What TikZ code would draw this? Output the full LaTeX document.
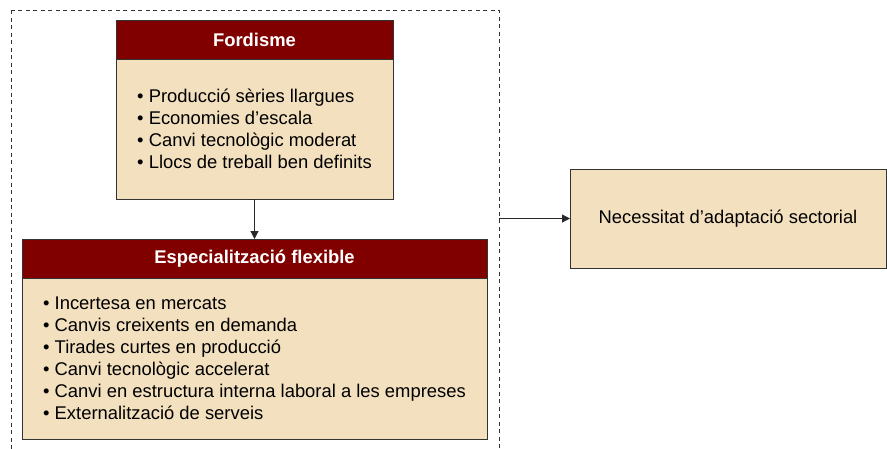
\documentclass[tikz,border=0pt]{standalone}
\usepackage{fontspec}
\setmainfont{Liberation Sans}
\usetikzlibrary{arrows.meta}
\definecolor{hdr}{HTML}{800000}
\definecolor{bodyfill}{HTML}{F3E0BF}
\definecolor{edge}{HTML}{333333}
\begin{document}
\begin{tikzpicture}[x=1pt,y=-1pt,
  every node/.style={font=\fontsize{18.4}{22}\selectfont, inner sep=0pt, outer sep=0pt},
  hdrbox/.style={draw=edge, line width=1pt, fill=hdr, text=white, font=\fontsize{18.4}{22}\selectfont\bfseries, minimum height=39pt},
  bodybox/.style={draw=edge, line width=1pt, fill=bodyfill, align=left},
  conn/.style={draw=edge!80!black, line width=1pt, -{Triangle[length=8pt,width=8pt]}}
]
\useasboundingbox (0,0) rectangle (887,448);
\begin{scope}
\clip (0,0) rectangle (887,448);
\draw[edge, line width=1pt, dash pattern=on 4pt off 3.5pt] (11,10) rectangle (499,480);
\end{scope}
% Fordisme
\node[hdrbox, minimum width=277pt] (fordH) at (254.5,39.5) {Fordisme};
\node[bodybox, minimum width=277pt, minimum height=140pt] (fordB) at (254.5,129) {%
• Producció sèries llargues\\
• Economies d’escala\\
• Canvi tecnològic moderat\\
• Llocs de treball ben definits};
% Especialitzacio
\node[hdrbox, minimum width=465pt] (espH) at (254.5,258.5) {Especialització flexible};
\node[bodybox, minimum width=465pt, minimum height=161pt] (espB) at (254.5,358.5) {%
• Incertesa en mercats\\
• Canvis creixents en demanda\\
• Tirades curtes en producció\\
• Canvi tecnològic accelerat\\
• Canvi en estructura interna laboral a les empreses\\
• Externalització de serveis};
% Right box
\node[bodybox, minimum width=316pt, minimum height=99pt, align=center] (nec) at (728,218.5) {Necessitat d’adaptació sectorial};
\coordinate (dr) at (499,218.5);
\draw[conn] (fordB.south) -- (espH.north);
\draw[conn] (dr) -- (nec.west);
\end{tikzpicture}
\end{document}
